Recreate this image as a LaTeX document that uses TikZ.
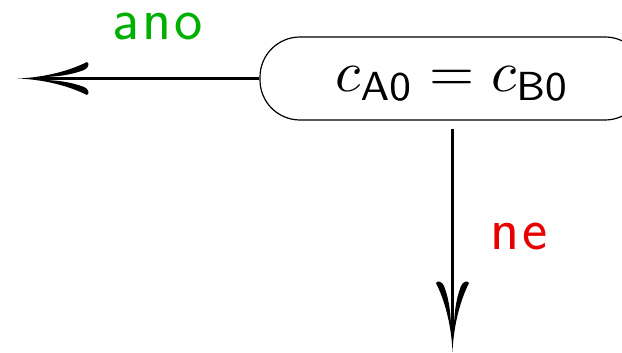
\documentclass[tikz,border=0pt]{standalone}
\usetikzlibrary{arrows.meta}

% Quill-like arrow tip: two tapered, curved barbs filled as one shape
\pgfdeclarearrow{
  name = Quill,
  setup code = {
    \pgfarrowssettipend{0pt}
    \pgfarrowssetbackend{-71pt}
    \pgfarrowssetvisualbackend{-71pt}
    \pgfarrowssetlineend{-24pt}
    \pgfarrowshullpoint{0pt}{0pt}
    \pgfarrowsupperhullpoint{-71pt}{16pt}
  },
  drawing code = {
    \pgfpathmoveto{\pgfqpoint{0pt}{0pt}}
    \pgfpathcurveto{\pgfqpoint{-28pt}{1.2pt}}{\pgfqpoint{-52pt}{8pt}}{\pgfqpoint{-69pt}{16.5pt}}
    \pgfpathcurveto{\pgfqpoint{-71.5pt}{15.5pt}}{\pgfqpoint{-71pt}{10.5pt}}{\pgfqpoint{-66pt}{8.5pt}}
    \pgfpathcurveto{\pgfqpoint{-52pt}{3pt}}{\pgfqpoint{-36pt}{1.6pt}}{\pgfqpoint{-24pt}{1.4pt}}
    \pgfpathlineto{\pgfqpoint{-24pt}{-1.4pt}}
    \pgfpathcurveto{\pgfqpoint{-36pt}{-1.6pt}}{\pgfqpoint{-52pt}{-3pt}}{\pgfqpoint{-66pt}{-8.5pt}}
    \pgfpathcurveto{\pgfqpoint{-71pt}{-10.5pt}}{\pgfqpoint{-71.5pt}{-15.5pt}}{\pgfqpoint{-69pt}{-16.5pt}}
    \pgfpathcurveto{\pgfqpoint{-52pt}{-8pt}}{\pgfqpoint{-28pt}{-1.2pt}}{\pgfqpoint{0pt}{0pt}}
    \pgfpathclose
    \pgfusepathqfill
  }
}

\definecolor{anogreen}{RGB}{0,176,0}
\definecolor{nered}{RGB}{230,0,0}

\tikzset{
  condbox/.style={draw, line width=1.2pt, rounded corners=40pt,
    minimum width=385pt, minimum height=83pt, inner sep=0pt,
    text height=27pt, text depth=0pt},
  flow/.style={line width=2.4pt, -Quill},
  lbl/.style={font=\sffamily\fontsize{60}{62}\selectfont, inner sep=0pt,
    anchor=base, text height=28pt, text depth=0pt}
}

\begin{document}
\begin{tikzpicture}[x=1pt, y=1pt]
  \useasboundingbox (0,0) rectangle (622,353);
  \clip (0,0) rectangle (622,353);

  \node[condbox] (cond) at (452.5,274.5)
    {\scalebox{5.8}{$c_{\mathsf{A0}} = c_{\mathsf{B0}}$}};

  \coordinate (yesend) at (18,274.5);
  \coordinate (noend) at (452.5,1);

  \draw[flow] (cond.west) -- (yesend);
  \draw[flow, shorten <=8pt] (cond.south) -- (noend);

  \node[lbl, text=anogreen] (ano) at (157.5,313) {a\kern3pt n\kern3pt o};
  \node[lbl, text=nered] (ne) at (519.5,103) {n\kern3pt e};
\end{tikzpicture}
\end{document}
